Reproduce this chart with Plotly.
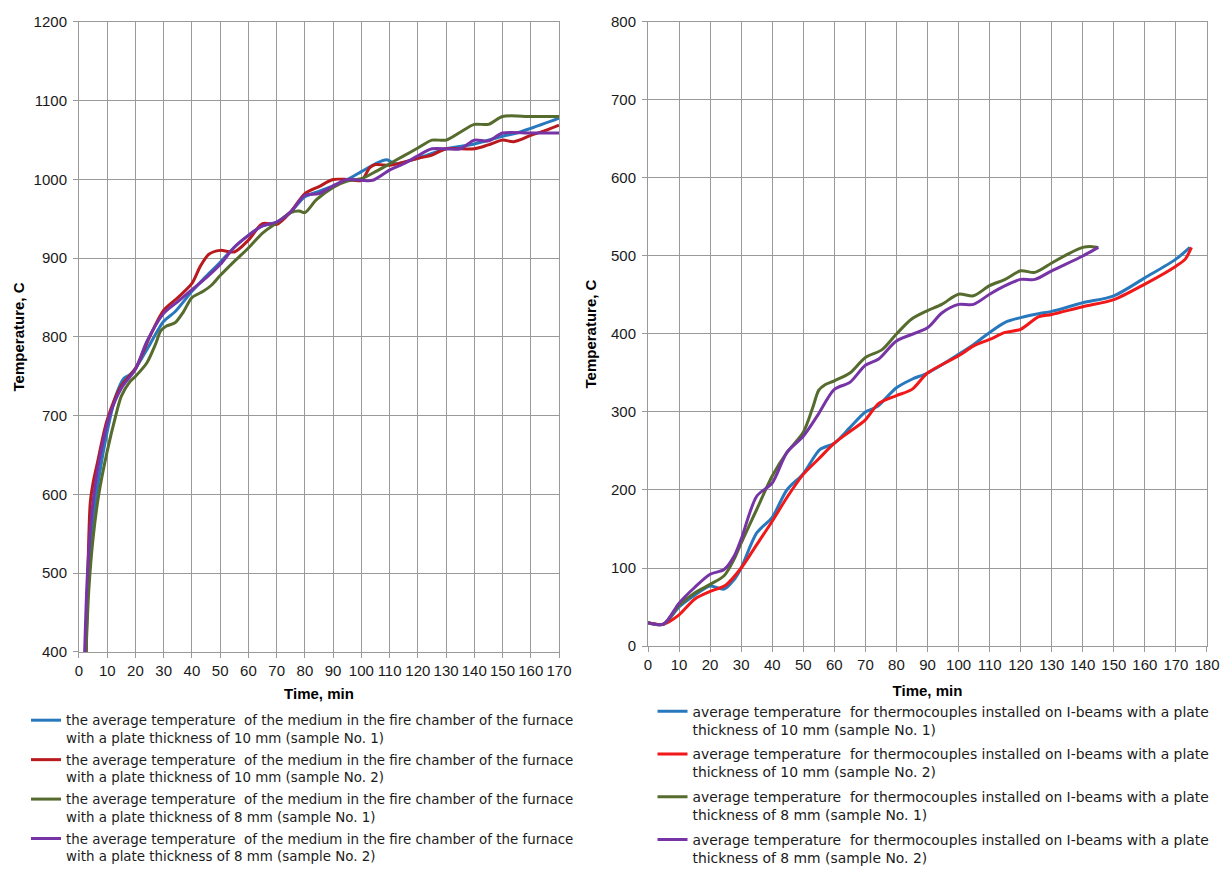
import plotly.graph_objects as go

FONT = "Liberation Sans, Arial, sans-serif"
LFONT = "DejaVu Sans, Liberation Sans, sans-serif"

# ---------------- Left chart: furnace medium temperature ----------------
left_names = [
    "the average temperature  of the medium in the fire chamber of the furnace<br>with a plate thickness of 10 mm (sample No. 1)",
    "the average temperature  of the medium in the fire chamber of the furnace<br>with a plate thickness of 10 mm (sample No. 2)",
    "the average temperature  of the medium in the fire chamber of the furnace<br>with a plate thickness of 8 mm (sample No. 1)",
    "the average temperature  of the medium in the fire chamber of the furnace<br>with a plate thickness of 8 mm (sample No. 2)",
]
left_colors = ["#2878BE", "#B81A1E", "#566B2E", "#7634A6"]

l_blue_x = [2.5, 3.2, 5, 7, 10, 13, 16, 18, 20, 25, 30, 34, 40, 45, 50, 55, 60, 65, 70, 75, 80, 85, 90, 95, 100, 105, 109, 112, 120, 130, 140, 150, 155, 160, 170]
l_blue_y = [400, 500, 570, 620, 680, 725, 748, 752, 760, 790, 820, 832, 858, 877, 895, 914, 929, 941, 946, 959, 978, 985, 992, 1000, 1010, 1020, 1025, 1020, 1027, 1039, 1045, 1055, 1059, 1065, 1078]

l_red_x = [2.5, 3, 4, 5, 6.5, 10, 15, 20, 25, 30, 35, 40, 43, 46, 50, 55, 60, 65, 70, 75, 80, 85, 90, 95, 100, 103, 105, 110, 115, 120, 125, 130, 140, 145, 150, 154, 160, 165, 170]
l_red_y = [400, 480, 590, 615, 640, 695, 738, 760, 800, 834, 850, 868, 890, 905, 910, 908, 923, 944, 943, 959, 982, 991, 1000, 1000, 999, 1015, 1019, 1018, 1022, 1027, 1031, 1039, 1039, 1044, 1050, 1048, 1056, 1062, 1069]

l_green_x = [2.5, 3.5, 5, 7, 10, 13, 15, 18, 20, 24, 27, 29, 31, 34, 37, 40, 44, 47, 50, 55, 60, 65, 70, 75, 78, 80, 84, 90, 95, 100, 105, 110, 115, 120, 125, 130, 135, 140, 145, 150, 160, 170]
l_green_y = [400, 480, 545, 600, 655, 700, 725, 743, 750, 767, 790, 808, 814, 818, 832, 850, 858, 866, 878, 896, 913, 932, 945, 958, 960, 958, 974, 990, 998, 1001, 1010, 1020, 1030, 1040, 1050, 1050, 1060, 1070, 1070, 1080, 1080, 1080]

l_purple_x = [2, 3, 4.5, 5.3, 7, 10.8, 15, 20, 24, 30, 35, 40, 45, 50, 55, 60, 65, 70, 75, 80, 85, 90, 95, 100, 104, 110, 115, 120, 125, 135, 140, 145, 150, 160, 170]
l_purple_y = [400, 500, 575, 600, 640, 700, 735, 759, 794, 830, 845, 860, 875, 892, 914, 929, 941, 946, 959, 980, 982, 992, 1000, 999, 999, 1012, 1020, 1030, 1039, 1039, 1050, 1049, 1059, 1059, 1059]

# ---------------- Right chart: I-beam thermocouples ----------------
right_names = [
    "average temperature  for thermocouples installed on I-beams with a plate<br>thickness of 10 mm (sample No. 1)",
    "average temperature  for thermocouples installed on I-beams with a plate<br>thickness of 10 mm (sample No. 2)",
    "average temperature  for thermocouples installed on I-beams with a plate<br>thickness of 8 mm (sample No. 1)",
    "average temperature  for thermocouples installed on I-beams with a plate<br>thickness of 8 mm (sample No. 2)",
]
right_colors = ["#2878BE", "#F01818", "#566B2E", "#7634A6"]

r_blue_x = [0, 5, 10, 15, 20, 24.5, 27.7, 30, 35, 40, 44.7, 50, 55.4, 60, 65, 70, 73.8, 80, 85, 90, 100, 105, 110, 115, 120, 125.7, 130, 140, 150, 160, 170, 174.5]
r_blue_y = [30, 28, 50, 65, 77, 73, 85, 100, 145, 165, 200, 221, 252, 260, 280, 300, 307, 331, 342, 350, 374, 387, 402, 415, 421, 426, 429, 440, 449, 472, 496, 511]

r_red_x = [0, 5, 10, 15, 20, 25, 30, 35, 40, 45, 50, 55, 60, 65, 70, 74.3, 80, 85, 90, 100, 105, 110, 115, 120, 125.7, 130, 140, 150, 160, 170, 173, 175]
r_red_y = [30, 28, 40, 60, 70, 78, 100, 130, 160, 192, 220, 240, 260, 275, 290, 311, 321, 329, 350, 372, 385, 393, 402, 406, 422, 425, 435, 444, 464, 487, 496, 511]

r_green_x = [0, 5, 10, 15, 20, 24.5, 27.7, 30, 35, 40, 44.7, 50, 53, 55, 57, 60, 65, 70, 75.4, 80, 84.8, 90, 94.6, 100, 104.8, 110, 115, 120, 124.6, 130, 135, 140, 143, 145]
r_green_y = [30, 28, 52, 68, 79, 90, 111, 132, 175, 218, 248, 274, 305, 328, 335, 340, 350, 370, 380, 400, 419, 430, 438, 451, 449, 462, 470, 481, 479, 491, 502, 511, 512, 511]

r_purple_x = [0, 5, 10, 15, 20, 24.5, 27.7, 30, 35, 40, 44.7, 50, 54.5, 60, 65, 70, 74.3, 80, 90, 94.6, 100, 104.8, 110, 115, 120, 124.6, 130, 140, 145]
r_purple_y = [30, 28, 55, 75, 92, 98, 115, 137, 192, 209, 248, 269, 295, 329, 338, 360, 368, 391, 408, 427, 438, 438, 451, 462, 470, 470, 481, 500, 511]

left_x = [l_blue_x, l_red_x, l_green_x, l_purple_x]
left_y = [l_blue_y, l_red_y, l_green_y, l_purple_y]
right_x = [r_blue_x, r_red_x, r_green_x, r_purple_x]
right_y = [r_blue_y, r_red_y, r_green_y, r_purple_y]

fig = go.Figure()

for i in range(4):
    fig.add_trace(go.Scatter(
        x=left_x[i], y=left_y[i], mode="lines", name=left_names[i],
        line=dict(color=left_colors[i], width=3, shape="spline", smoothing=0.8),
        xaxis="x", yaxis="y", legend="legend", legendgroup="L%d" % i,
    ))
for i in range(4):
    fig.add_trace(go.Scatter(
        x=right_x[i], y=right_y[i], mode="lines", name=right_names[i],
        line=dict(color=right_colors[i], width=3, shape="spline", smoothing=0.8),
        xaxis="x2", yaxis="y2", legend="legend2", legendgroup="R%d" % i,
    ))

GRID = "#9a9a9a"
tickfont = dict(family=FONT, size=15, color="#1a1a1a")
titlefont = dict(family=FONT, size=15, color="#000000", weight="bold")

def xax(domain, rng, anchor, standoff):
    return dict(domain=domain, range=rng, anchor=anchor, dtick=10, tick0=0,
                showgrid=True, gridcolor=GRID, gridwidth=1,
                showline=True, linecolor=GRID, linewidth=1, mirror=True,
                ticks="outside", ticklen=5, tickcolor=GRID,
                tickfont=tickfont, zeroline=False, automargin=False,
                title=dict(text="Time, min", font=titlefont, standoff=standoff))

def yax(domain, rng, anchor, standoff):
    return dict(domain=domain, range=rng, anchor=anchor, dtick=100, tick0=0,
                showgrid=True, gridcolor=GRID, gridwidth=1,
                showline=True, linecolor=GRID, linewidth=1, mirror=True,
                ticks="outside", ticklen=5, tickcolor=GRID, ticklabelstandoff=3,
                tickfont=tickfont, zeroline=False, automargin=False,
                title=dict(text="Temperature, C", font=titlefont, standoff=standoff))

legend_common = dict(
    bgcolor="rgba(0,0,0,0)", borderwidth=0,
    valign="top", itemwidth=30,
    xanchor="left", yanchor="top", orientation="v",
)

fig.update_layout(
    width=1220, height=875,
    margin=dict(l=0, r=0, t=0, b=0),
    paper_bgcolor="white", plot_bgcolor="white",
    font=dict(family=FONT, color="#1a1a1a"),
    xaxis=xax([0.06475, 0.45820], [0, 170], "y", 10),
    yaxis=yax([0.25486, 0.97486], [400, 1200], "x", 5),
    xaxis2=xax([0.53115, 0.98934], [0, 180], "y2", 13),
    yaxis2=yax([0.26171, 0.97486], [0, 800], "x2", 10),
    legend=dict(x=0.02131, y=0.1943, tracegroupgap=1.6,
                font=dict(family=LFONT, size=13.4, color="#1a1a1a"), **legend_common),
    legend2=dict(x=0.53484, y=0.2049, tracegroupgap=3.6,
                 font=dict(family=LFONT, size=13.9, color="#1a1a1a"), **legend_common),
    showlegend=True,
)

fig.write_html("out.html", config={"displayModeBar": False},
               post_script="document.body.style.margin='0';document.body.style.overflow='hidden';")
